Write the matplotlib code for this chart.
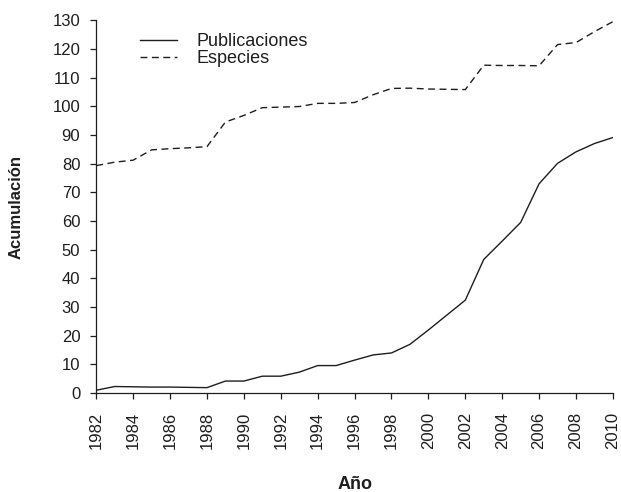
import matplotlib
matplotlib.use("Agg")
import matplotlib.pyplot as plt
import numpy as np

plt.rcParams["font.family"] = ["Liberation Sans", "DejaVu Sans"]

years = list(range(1982, 2011))
publicaciones = [1.0, 2.3, 2.2, 2.1, 2.1, 2.0, 1.9, 4.2, 4.2, 5.9, 5.9, 7.3, 9.6, 9.6,
                 11.5, 13.3, 14.0, 17.0, 22.0, 27.2, 32.4, 46.6, 53.0, 59.5, 73.0,
                 80.1, 84.1, 87.0, 89.1]
especies = [79.3, 80.5, 81.2, 84.8, 85.2, 85.5, 85.9, 94.5, 96.8, 99.5, 99.7, 99.9,
            101.0, 101.0, 101.3, 104.0, 106.2, 106.3, 106.0, 105.9, 105.8, 114.3,
            114.2, 114.2, 114.1, 121.5, 122.2, 126.0, 129.5]

xticks = list(range(1982, 2011, 2))
yticks = list(range(0, 131, 10))

fig = plt.figure(figsize=(6.21, 4.92), dpi=100)
ax = fig.add_axes([0.155, 0.201, 0.832, 0.758])

ink = "#1e1e1e"
ax.plot(years, publicaciones, color=ink, lw=1.0, label="Publicaciones")
ax.plot(years, especies, color=ink, lw=1.0, linestyle=(0, (5, 3.2)), label="Especies")

ax.set_xlim(1982, 2010)
ax.set_ylim(0, 130)
ax.set_xticks(xticks)
ax.set_yticks(yticks)
ax.set_xticklabels([str(y) for y in xticks], rotation=90)
ax.tick_params(axis="both", labelsize=12, length=4.5, width=0.9, color=ink,
               labelcolor=ink, direction="out")
ax.tick_params(axis="x", pad=9)
ax.tick_params(axis="y", pad=7)

for s in ["top", "right"]:
    ax.spines[s].set_visible(False)
for s in ["left", "bottom"]:
    ax.spines[s].set_linewidth(0.9)
    ax.spines[s].set_color(ink)

ax.set_xlabel("Año", fontsize=13, fontweight="bold", color=ink, labelpad=19)
ax.set_ylabel("Acumulación", fontsize=12, fontweight="bold", color=ink, labelpad=21)

leg = ax.legend(loc="upper left", bbox_to_anchor=(0.2254, 0.933), bbox_transform=fig.transFigure,
                frameon=False, fontsize=13, handlelength=2.05, handletextpad=1.1,
                labelspacing=0.0, borderpad=0.0, borderaxespad=0.0)
for t in leg.get_texts():
    t.set_color(ink)

fig.savefig("out.png", dpi=100)
